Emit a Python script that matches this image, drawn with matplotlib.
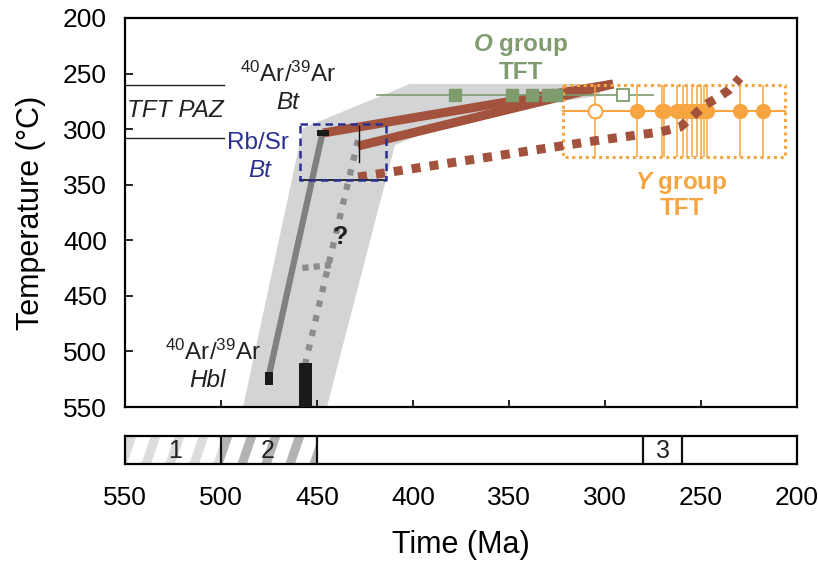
import numpy as np
import matplotlib
matplotlib.use('Agg')
import matplotlib.pyplot as plt
from matplotlib.patches import Polygon, Rectangle

plt.rcParams['font.family'] = ['Liberation Sans', 'DejaVu Sans']
plt.rcParams['mathtext.fontset'] = 'custom'
plt.rcParams['mathtext.rm'] = 'Liberation Sans'
plt.rcParams['mathtext.it'] = 'Liberation Sans:italic'
plt.rcParams['mathtext.bf'] = 'Liberation Sans:bold'
plt.rcParams['mathtext.bfit'] = 'Liberation Sans:bold:italic'

# Colours
GREY_BAND = '#d3d4d5'
DARK_GREY = '#808080'
DOT_GREY = '#8c8c8c'
BROWN = '#a3533d'
NAVY = '#2b3090'
GREEN = '#7e9c6e'
ORANGE = '#f7a541'

# Cooling envelope (age in Ma, temperature in degC)
band_age = [488.5, 457.3, 401.6, 302.6, 302.6, 370.3, 409.4, 444.8]
band_temp = [550, 299, 259.4, 259.4, 270, 287.3, 314.3, 550]

# Hbl -> Bt cooling path
hbl_bt_age = [475, 447.4]
hbl_bt_temp = [521.3, 305.3]

# Alternative (uncertain) path
alt_age = [456.3, 428.6]
alt_temp = [512.3, 309.8]
alt_branch_age = [442.7, 458.0]
alt_branch_temp = [422.3, 425.0]

# Post-Bt cooling paths
brown_a_age = [446.9, 295.8]
brown_a_temp = [303.5, 259.4]
brown_b_age = [428.6, 295.8]
brown_b_temp = [315.2, 259.4]
brown_dot_age = [428.6, 302.6, 271.4, 260.9, 254.7, 247.9, 241.7, 235.4, 229.7]
brown_dot_temp = [343.1, 309.8, 302.6, 298.1, 289.1, 278.3, 272.0, 264.8, 254.0]

# Geochronology boxes: (age_old, age_young, temp_low, temp_high)
ar_hbl = (477.1, 472.9, 518.6, 530.3)
ar_bt = (450.0, 443.8, 300.8, 306.2)
zircon_age = (459.4, 452.6, 510.5, 550.0)
rbsr_box = (459.0, 414.0, 295.0, 346.0)
bt_bar_age = 428.3
bt_bar_temp = [297.2, 329.6]

# TFT partial annealing zone
paz_temp = [260, 308]
paz_age = [550, 498.5]

# O group TFT ages
o_filled = [378.0, 348.4, 338.0, 329.7, 325.5]
o_open = [290.6]
o_temp = 269.3
o_range = [419.0, 275.0]

# Y group TFT ages
y_filled = [283.2, 270.5, 269.3, 262.7, 259.2, 257.5, 254.9, 252.2,
            250.2, 248.4, 247.0, 229.7, 217.9]
y_open = [305.2]
y_temp = 283.4
y_box = (322.0, 206.0, 260.0, 325.0)

# Time bar cells
cell_edges = [500, 450, 280, 260]
cell_labels = ['1', '2', '3']
cell_label_age = [524, 475.5, 270]

fig = plt.figure(figsize=(8.18, 5.62), dpi=100)
ax = fig.add_axes([0.1528, 0.2758, 0.8215, 0.6922])
bar = fig.add_axes([0.1528, 0.1744, 0.8215, 0.0498])

ax.add_patch(Polygon(list(zip(band_age, band_temp)), closed=True,
                     facecolor=GREY_BAND, edgecolor='none', zorder=1))

# PAZ limits
for t in paz_temp:
    ax.plot(paz_age, [t, t], color='#222222', lw=1.0, zorder=2)

ax.plot(hbl_bt_age, hbl_bt_temp, color=DARK_GREY, lw=4.5,
        solid_capstyle='butt', zorder=3)
ax.plot(alt_age, alt_temp, color=DOT_GREY, lw=4.5,
        linestyle=(0, (1, 1.4)), dash_capstyle='butt', zorder=3)
ax.plot(alt_branch_age, alt_branch_temp, color=DOT_GREY, lw=4.5,
        linestyle=(0, (1, 0.8)), dash_capstyle='butt', zorder=3)

ax.plot(brown_a_age, brown_a_temp, color=BROWN, lw=6.5,
        solid_capstyle='butt', zorder=4)
ax.plot(brown_b_age, brown_b_temp, color=BROWN, lw=6.5,
        solid_capstyle='butt', zorder=4)

# O group
ax.plot(o_range, [o_temp, o_temp], color=GREEN, lw=1.2, zorder=5)
ax.plot(o_filled, [o_temp] * len(o_filled), 's', color=GREEN,
        markersize=8.5, zorder=6)
ax.plot(o_open, [o_temp] * len(o_open), 's', markerfacecolor='white',
        markeredgecolor=GREEN, markeredgewidth=1.3, markersize=8, zorder=6)

# Y group
yo, yy, ylo, yhi = y_box
ax.plot([yo, yy, yy, yo, yo], [ylo, ylo, yhi, yhi, ylo], color=ORANGE,
        lw=2.2, linestyle=(0, (1, 1.2)), zorder=5)
ax.plot([yo, yy], [y_temp, y_temp], color=ORANGE, lw=1.5, zorder=5)
ax.vlines(y_filled + y_open, ylo, yhi, color=ORANGE, lw=1.1, zorder=5)
ax.plot(y_filled, [y_temp] * len(y_filled), 'o', color=ORANGE,
        markersize=10, zorder=6)
ax.plot(y_open, [y_temp] * len(y_open), 'o', markerfacecolor='white',
        markeredgecolor=ORANGE, markeredgewidth=1.5, markersize=10, zorder=6)

ax.plot(brown_dot_age, brown_dot_temp, color=BROWN, lw=6.5,
        linestyle=(0, (1, 1)), dash_capstyle='butt', zorder=7)

# Rb/Sr window
ro, ry, rlo, rhi = rbsr_box
ax.plot([ry, ro], [rhi, rhi], color='#111111', lw=1.2, zorder=7)
ax.plot([ro, ry, ry, ro, ro], [rlo, rlo, rhi, rhi, rlo], color=NAVY,
        lw=1.8, linestyle=(0, (3, 2)), zorder=8)
ax.plot([bt_bar_age, bt_bar_age], bt_bar_temp, color='#111111', lw=1.0,
        zorder=8)

# Dated samples
for a_old, a_young, t_lo, t_hi in (ar_hbl, ar_bt, zircon_age):
    ax.add_patch(Rectangle((a_old, t_lo), a_young - a_old, t_hi - t_lo,
                           facecolor='#1a1a1a', edgecolor='none', zorder=9))

fs = 17.5
ax.text(524, 283, 'TFT PAZ', fontsize=fs, style='italic', ha='center',
        va='center', color='#222222')
ax.text(465, 251, r'$^{40}$Ar/$^{39}$Ar', fontsize=fs, ha='center',
        va='center', color='#222222')
ax.text(465, 276, 'Bt', fontsize=fs, style='italic', ha='center',
        va='center', color='#222222')
ax.text(480.7, 312.5, 'Rb/Sr', fontsize=fs, ha='center', va='center',
        color=NAVY)
ax.text(480.0, 337, 'Bt', fontsize=fs, style='italic', ha='center',
        va='center', color=NAVY)
ax.text(504, 500.6, r'$^{40}$Ar/$^{39}$Ar', fontsize=fs, ha='center',
        va='center', color='#222222')
ax.text(507, 526, 'Hbl', fontsize=fs, style='italic', ha='center',
        va='center', color='#222222')
ax.text(438, 397, '?', fontsize=18, fontweight='bold', ha='center',
        va='center', color='#222222')
ax.text(344, 224, r'$\mathbfit{O}$ group', fontsize=fs, fontweight='bold',
        ha='center', va='center', color=GREEN)
ax.text(344, 249, 'TFT', fontsize=fs, fontweight='bold', ha='center',
        va='center', color=GREEN)
ax.text(260, 348.5, r'$\mathbfit{Y}$ group', fontsize=fs, fontweight='bold',
        ha='center', va='center', color=ORANGE)
ax.text(260, 371, 'TFT', fontsize=fs, fontweight='bold', ha='center',
        va='center', color=ORANGE)

ax.set_xlim(550, 200)
ax.set_ylim(550, 200)
ax.set_yticks(np.arange(200, 551, 50))
ax.set_xticks(np.arange(200, 551, 50))
ax.tick_params(axis='x', direction='in', length=5, width=1.2,
               labelbottom=False)
ax.tick_params(axis='y', direction='in', length=6, width=1.2,
               labelsize=19, pad=13)
ax.set_ylabel('Temperature (\u00b0C)', fontsize=22, labelpad=12)
for s in ax.spines.values():
    s.set_linewidth(1.6)

# Time bar with hatched cells
bar.set_xlim(550, 200)
bar.set_ylim(0, 1)
cells = [(550, 500, '#dcdcdc'), (500, 450, '#b3b3b3')]
for c_old, c_young, col in cells:
    clip = Rectangle((c_old, 0), c_young - c_old, 1, transform=bar.transData,
                     facecolor='none', edgecolor='none')
    bar.add_patch(clip)
    for x0 in np.arange(c_old + 4, c_young - 8, -12.5):
        stripe = Polygon([(x0, 0), (x0 - 5, 0), (x0 - 10, 1), (x0 - 5, 1)],
                         closed=True, facecolor=col, edgecolor='none')
        bar.add_patch(stripe)
        stripe.set_clip_path(clip)
for e in cell_edges:
    bar.axvline(e, color='#111111', lw=1.6)
for lab, a in zip(cell_labels, cell_label_age):
    bar.text(a, 0.45, lab, fontsize=18, ha='center', va='center',
             color='#222222')
bar.set_yticks([])
bar.set_xticks(np.arange(200, 551, 50))
bar.tick_params(axis='x', length=0, labelsize=19, pad=16)
bar.set_xlabel('Time (Ma)', fontsize=22, labelpad=14)
for s in bar.spines.values():
    s.set_linewidth(1.6)

fig.savefig('out.png', dpi=100)
